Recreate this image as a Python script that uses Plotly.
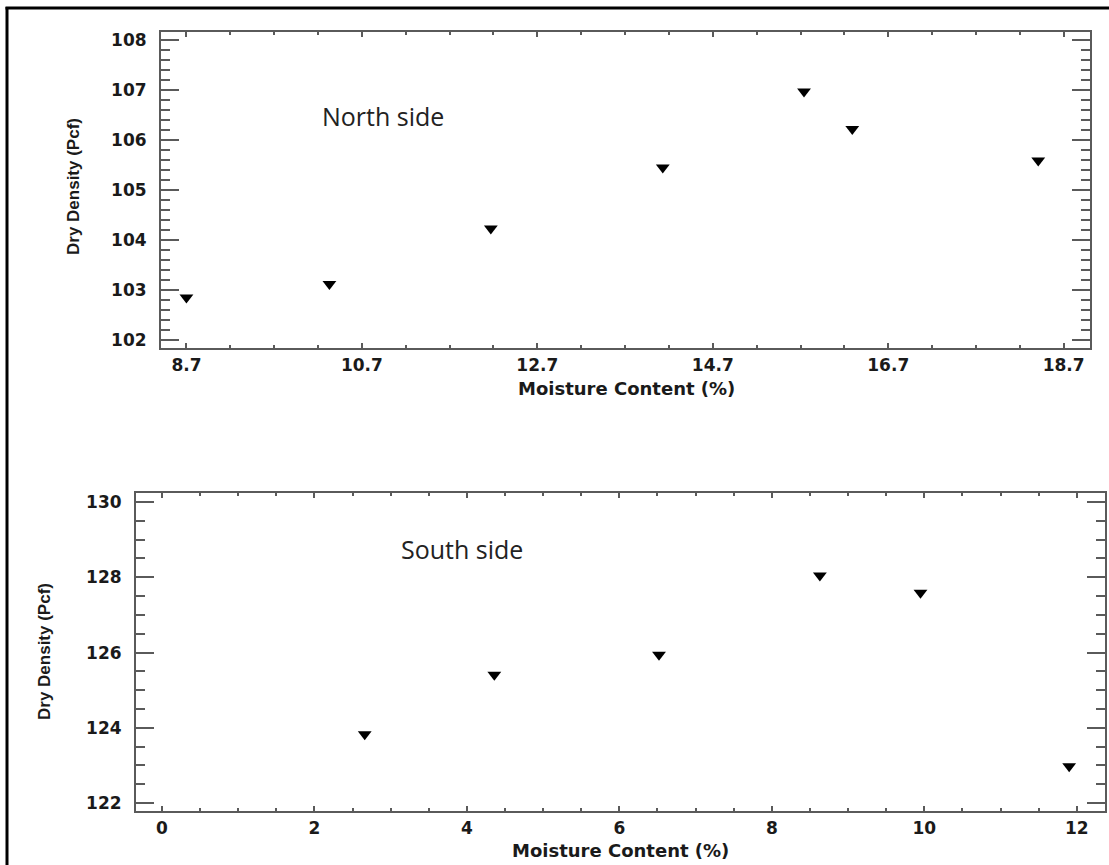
import plotly.graph_objects as go

# ---- data ----
north_moisture = [8.7, 10.33, 12.17, 14.13, 15.74, 16.29, 18.41]
north_density = [102.85, 103.12, 104.23, 105.45, 106.97, 106.22, 105.59]

south_moisture = [2.66, 4.36, 6.52, 8.63, 9.95, 11.9]
south_density = [123.83, 125.41, 125.94, 128.05, 127.59, 122.98]

north_xticks = [8.7, 10.7, 12.7, 14.7, 16.7, 18.7]
north_yticks = [102, 103, 104, 105, 106, 107, 108]
south_xticks = [0, 2, 4, 6, 8, 10, 12]
south_yticks = [122, 124, 126, 128, 130]

panel_labels = ["North side", "South side"]
x_title = "Moisture Content (%)"
y_title = "Dry Density (Pcf)"

W, H = 1109, 865

fig = go.Figure()
fig.add_trace(go.Scatter(x=north_moisture, y=north_density, mode="markers",
                         marker=dict(symbol="triangle-down", size=12, color="black"),
                         xaxis="x", yaxis="y", showlegend=False))
fig.add_trace(go.Scatter(x=south_moisture, y=south_density, mode="markers",
                         marker=dict(symbol="triangle-down", size=12, color="black"),
                         xaxis="x2", yaxis="y2", showlegend=False))

tick_font = dict(family="DejaVu Sans", size=17, color="#1a1a1a", weight="bold")
line_col = "#5a5a5a"


def xaxis_style(domain, anchor, rng, vals, fmt):
    return dict(domain=domain, anchor=anchor, range=rng,
                tickmode="array", tickvals=vals, ticktext=[fmt.format(v) for v in vals],
                ticks="inside", ticklen=5, tickwidth=1.5, tickcolor=line_col,
                minor=dict(dtick=0.5, tick0=vals[0], ticks="inside", ticklen=3,
                           tickwidth=1.5, tickcolor=line_col, showgrid=False),
                showline=True, linecolor=line_col, linewidth=2, mirror="ticks",
                showgrid=False, zeroline=False, tickfont=tick_font,
                ticklabelstandoff=1, automargin=False, fixedrange=True)


def yaxis_style(domain, anchor, rng, vals, minor_dtick):
    return dict(domain=domain, anchor=anchor, range=rng,
                tickmode="array", tickvals=vals, ticktext=[str(v) for v in vals],
                ticks="inside", ticklen=18, tickwidth=1.5, tickcolor=line_col,
                minor=dict(dtick=minor_dtick, tick0=vals[0], ticks="inside", ticklen=9,
                           tickwidth=1.5, tickcolor=line_col, showgrid=False),
                showline=True, linecolor=line_col, linewidth=2, mirror="ticks",
                showgrid=False, zeroline=False, tickfont=tick_font,
                ticklabelstandoff=9, automargin=False, fixedrange=True)


fig.update_layout(
    width=W, height=H,
    margin=dict(l=0, r=0, t=0, b=0),
    paper_bgcolor="white", plot_bgcolor="white",
    showlegend=False,
    xaxis=xaxis_style([161 / W, 1090 / W], "y", [8.41, 19.0], north_xticks, "{:.1f}"),
    yaxis=yaxis_style([1 - 348 / H, 1 - 32 / H], "x", [101.84, 108.16], north_yticks, 0.2),
    xaxis2=xaxis_style([136 / W, 1105 / W], "y2", [-0.34, 12.37], south_xticks, "{:d}"),
    yaxis2=yaxis_style([1 - 811 / H, 1 - 493 / H], "x2", [121.79, 130.24], south_yticks, 0.5),
)

title_font = dict(family="DejaVu Sans", size=18, color="#1a1a1a", weight="bold")
ytitle_font = dict(family="Liberation Sans", size=17, color="#1a1a1a", weight="bold")
label_font = dict(family="Open Sans", size=25, color="#222222")

annotations = [
    dict(text=panel_labels[0], x=383 / W, y=1 - 116 / H, font=label_font),
    dict(text=panel_labels[1], x=462 / W, y=1 - 549 / H, font=label_font),
    dict(text=x_title, x=626 / W, y=1 - 388 / H, font=title_font),
    dict(text=x_title, x=620 / W, y=1 - 850 / H, font=title_font),
    dict(text=y_title, x=73 / W, y=1 - 187 / H, font=ytitle_font, textangle=-90),
    dict(text=y_title, x=44 / W, y=1 - 652 / H, font=ytitle_font, textangle=-90),
]
for a in annotations:
    fig.add_annotation(xref="paper", yref="paper", showarrow=False,
                       xanchor="center", yanchor="middle", **a)

# outer frame of the figure (left and top edges)
fig.add_shape(type="line", xref="paper", yref="paper",
              x0=7 / W, x1=7 / W, y0=0, y1=1 - 7 / H,
              line=dict(color="black", width=3))
fig.add_shape(type="line", xref="paper", yref="paper",
              x0=5.5 / W, x1=1, y0=1 - 8 / H, y1=1 - 8 / H,
              line=dict(color="black", width=3))

fig.write_html(
    "out.html",
    config={"displayModeBar": False},
    post_script="document.body.style.margin='0';document.body.style.overflow='hidden';",
)
